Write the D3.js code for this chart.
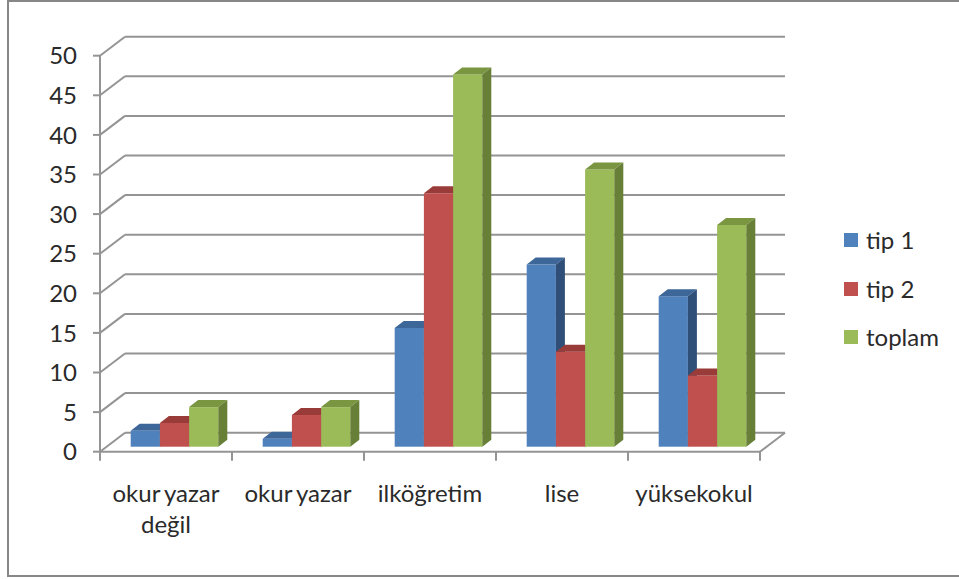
<!DOCTYPE html>
<html>
<head>
<meta charset="utf-8">
<script src="https://cdn.jsdelivr.net/npm/d3@7"></script>
<style>
  html, body { margin: 0; padding: 0; background: #fff; }
  svg { display: block; }
  text { font-family: Lato, "Open Sans", sans-serif; fill: #2a2a2a; }
</style>
</head>
<body>
<svg id="chart" width="959" height="579"></svg>
<script>
const categories = ["okur yazar değil", "okur yazar", "ilköğretim", "lise", "yüksekokul"];
const seriesNames = ["tip 1", "tip 2", "toplam"];
const tip1 = [2, 1, 15, 23, 19];
const tip2 = [3, 4, 32, 12, 9];
const toplam = [5, 5, 47, 35, 28];
const yTicks = [0, 5, 10, 15, 20, 25, 30, 35, 40, 45, 50];

const seriesValues = [tip1, tip2, toplam];
const colors = [
  { front: "#4F81BD", top: "#3D6699", side: "#2F4E78" },
  { front: "#C0504D", top: "#993B38", side: "#873432" },
  { front: "#9BBB59", top: "#7A9640", side: "#677F37" }
];

const svg = d3.select("#chart");
const gridColor = "#949494";
const fontSize = 24;

// frame
svg.append("rect").attr("x", 8).attr("y", 1).attr("width", 960).attr("height", 575)
  .attr("fill", "none").attr("stroke", "#878787").attr("stroke-width", 2);

// 3D geometry
const depthDx = 25, depthDy = -19;
const x0 = 100, x1 = 760;
const x = d3.scaleBand().domain(categories).range([x0, x1]);
const y = d3.scaleLinear().domain([0, 50]).range([451.7, 55.7]);
const yBar = d3.scaleLinear().domain([0, 50]).range([446.7, 50.7]);
const xs = d3.scaleBand().domain(seriesNames).range([30.7, 118.3]);
const barDx = 9, barDy = -7;

const g = svg.append("g");

// back wall gridlines
g.selectAll(".grid").data(yTicks).join("line")
  .attr("x1", x0 + depthDx).attr("x2", 785)
  .attr("y1", d => y(d) + depthDy).attr("y2", d => y(d) + depthDy)
  .attr("stroke", gridColor).attr("stroke-width", 2);

// side wall diagonals
g.selectAll(".diag").data(yTicks).join("line")
  .attr("x1", x0).attr("x2", x0 + depthDx)
  .attr("y1", d => y(d)).attr("y2", d => y(d) + depthDy)
  .attr("stroke", gridColor).attr("stroke-width", 2);

// floor front edge and right diagonal
g.append("line").attr("x1", x0).attr("x2", x1).attr("y1", y(0)).attr("y2", y(0))
  .attr("stroke", gridColor).attr("stroke-width", 2);
g.append("line").attr("x1", x1).attr("x2", x1 + depthDx).attr("y1", y(0)).attr("y2", y(0) + depthDy)
  .attr("stroke", gridColor).attr("stroke-width", 2);

// y axis
g.append("line").attr("x1", x0).attr("x2", x0).attr("y1", y(0) + 1).attr("y2", y(50))
  .attr("stroke", gridColor).attr("stroke-width", 2);
g.selectAll(".ytick").data(yTicks).join("line")
  .attr("x1", 93).attr("x2", x0).attr("y1", d => y(d)).attr("y2", d => y(d))
  .attr("stroke", gridColor).attr("stroke-width", 2);
g.selectAll(".ylab").data(yTicks).join("text")
  .attr("x", 77).attr("y", d => y(d)).attr("dy", "0.36em")
  .attr("text-anchor", "end").attr("font-size", fontSize).text(d => d);

// x category ticks
const bounds = categories.map(c => x(c)).concat([x1]);
g.selectAll(".xtick").data(bounds).join("line")
  .attr("x1", d => d).attr("x2", d => d).attr("y1", y(0)).attr("y2", y(0) + 9)
  .attr("stroke", gridColor).attr("stroke-width", 2);

// bars
categories.forEach((cat, ci) => {
  seriesNames.forEach((s, si) => {
    const v = seriesValues[si][ci];
    const xl = x(cat) + xs(s), xr = xl + xs.bandwidth();
    const yt = yBar(v), yb = yBar(0);
    const c = colors[si];
    const bg = g.append("g");
    bg.append("rect").attr("x", xl).attr("y", yt).attr("width", xr - xl).attr("height", yb - yt)
      .attr("fill", c.front);
    bg.append("path")
      .attr("d", `M${xl},${yt}L${xl + barDx},${yt + barDy}L${xr + barDx},${yt + barDy}L${xr},${yt}Z`)
      .attr("fill", c.top);
    bg.append("path")
      .attr("d", `M${xr},${yt}L${xr + barDx},${yt + barDy}L${xr + barDx},${yb + barDy}L${xr},${yb}Z`)
      .attr("fill", c.side);
  });
});

// x labels (wrapped)
const maxW = 128;
categories.forEach(cat => {
  const cx = x(cat) + x.bandwidth() / 2;
  const t = g.append("text").attr("x", cx).attr("y", 501.5)
    .attr("text-anchor", "middle").attr("font-size", fontSize).attr("word-spacing", -1.5);
  const words = cat.split(" ");
  let line = [];
  let ts = t.append("tspan").attr("x", cx).attr("dy", 0);
  words.forEach(w => {
    line.push(w);
    ts.text(line.join(" "));
    if (ts.node().getComputedTextLength() > maxW && line.length > 1) {
      line.pop();
      ts.text(line.join(" "));
      line = [w];
      ts = t.append("tspan").attr("x", cx).attr("dy", 31).text(w);
    }
  });
});

// legend
const legY = [240, 289, 337];
const leg = svg.append("g");
seriesNames.forEach((s, i) => {
  leg.append("rect").attr("x", 844).attr("y", legY[i] - 7).attr("width", 14).attr("height", 14)
    .attr("fill", colors[i].front);
  leg.append("text").attr("x", 866).attr("y", legY[i]).attr("dy", "0.36em")
    .attr("font-size", fontSize).text(s);
});
</script>
</body>
</html>
